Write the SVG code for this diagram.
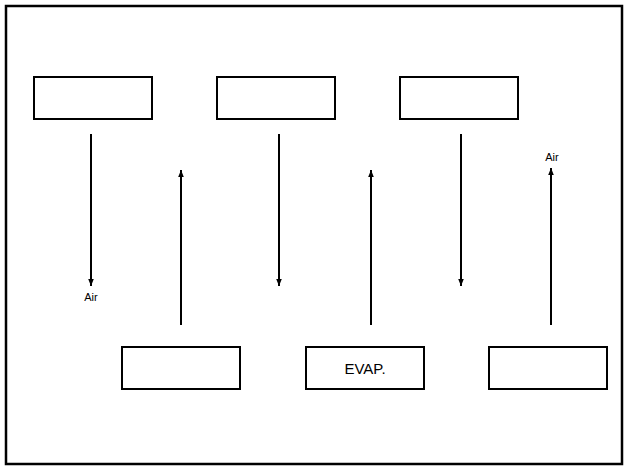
<svg xmlns="http://www.w3.org/2000/svg" width="629" height="466" viewBox="0 0 629 466">
<style>
.frame{fill:none;stroke:#000;stroke-width:2.5}
.box{fill:#fff;stroke:#000;stroke-width:2}
.ln{stroke:#000;stroke-width:2;fill:none}
text{font-family:"Liberation Sans",Arial,sans-serif;fill:#000}
.lbl{font-size:11px}
.big{font-size:15px}
</style>
<defs>
<marker id="ah" viewBox="0 0 10 10" refX="10" refY="5" markerWidth="7" markerHeight="9" markerUnits="userSpaceOnUse" orient="auto">
<path d="M0,1 L10,5 L0,9 Z" fill="#000"/>
</marker>
</defs>
<rect x="0" y="0" width="629" height="466" fill="#fff"/>
<rect class="frame" x="6" y="6" width="616" height="458"/>
<g id="top1"><rect class="box" x="34" y="77" width="118" height="42"/></g>
<g id="top2"><rect class="box" x="217" y="77" width="118" height="42"/></g>
<g id="top3"><rect class="box" x="400" y="77" width="118" height="42"/></g>
<g id="bot1"><rect class="box" x="122" y="347" width="118" height="42"/></g>
<g id="evap"><rect class="box" x="306" y="347" width="118" height="42"/><text class="big" x="365" y="374" text-anchor="middle">EVAP.</text></g>
<g id="bot3"><rect class="box" x="489" y="347" width="118" height="42"/></g>
<g id="connectors">
<line class="ln" x1="91" y1="134" x2="91" y2="286" marker-end="url(#ah)"/>
<line class="ln" x1="181" y1="325" x2="181" y2="170" marker-end="url(#ah)"/>
<line class="ln" x1="279" y1="134" x2="279" y2="286" marker-end="url(#ah)"/>
<line class="ln" x1="371" y1="325" x2="371" y2="170" marker-end="url(#ah)"/>
<line class="ln" x1="461" y1="134" x2="461" y2="286" marker-end="url(#ah)"/>
<line class="ln" x1="551" y1="325" x2="551" y2="168" marker-end="url(#ah)"/>
</g>
<text class="lbl" x="91" y="301" text-anchor="middle">Air</text>
<text class="lbl" x="552" y="161" text-anchor="middle">Air</text>
</svg>
